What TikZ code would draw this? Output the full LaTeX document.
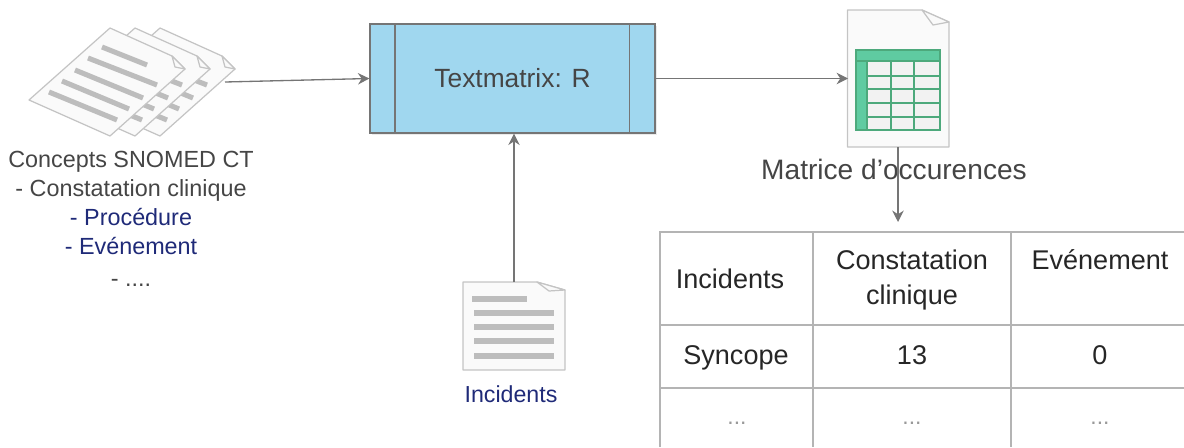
\documentclass[tikz,border=0pt]{standalone}
\usepackage{fontspec}
\usetikzlibrary{arrows.meta}
\setmainfont{Liberation Sans}
\definecolor{linegrey}{HTML}{757575}
\definecolor{pagegrey}{HTML}{C4C4C4}
\definecolor{pagefill}{HTML}{FAFAFA}
\definecolor{bargrey}{HTML}{BDBDBD}
\definecolor{boxblue}{HTML}{A0D7EF}
\definecolor{sheetgreen}{HTML}{5FCBA1}
\definecolor{sheetline}{HTML}{4DA97C}
\definecolor{cellgrey}{HTML}{F2F2F2}
\definecolor{tablegrey}{HTML}{B4B4B4}
\definecolor{labelgrey}{HTML}{454545}
\definecolor{labelnavy}{HTML}{1F2A78}
\tikzset{
	arrowline/.style={draw=linegrey,line width=0.75pt,-{Stealth[length=6.5pt,width=6.5pt]}},
	pageline/.style={draw=pagegrey,fill=pagefill,line width=0.7pt,line join=round},
	barline/.style={draw=bargrey,line width=2.9pt},
	celltext/.style={text=black!85,font=\fontsize{15.4}{19.5}\selectfont,align=center},
	dotstext/.style={text=black!40,font=\fontsize{13}{15}\selectfont},
}
\begin{document}
\begin{tikzpicture}[x=0.02cm,y=-0.02cm]
	\useasboundingbox (0,0) rectangle (1184,447);
	% tilted pages, back to front
	\foreach \pageshift in {50,25,0} {
		\begin{scope}[xshift=\pageshift*0.02cm]
			\draw[pageline] (110,28) to (172,56) to (185,69) to (110,136) to (29,100) to cycle;
			\draw[pageline] (172,56) to (175,67) to (185,69) to cycle;
			\draw[barline] (102,47) to (147,65);
			\draw[barline] (88,58) to (157,85);
			\draw[barline] (75,70) to (143,98);
			\draw[barline] (62,81) to (129,109);
			\draw[barline] (49,92) to (117,120);
		\end{scope}
	}
	\coordinate (concepts) at (225,82);
	\node[text=labelgrey,align=center,font=\fontsize{13.3}{16.4}\selectfont] (conceptstext) at (131,219) {Concepts SNOMED CT\\- Constatation clinique\\\textcolor{labelnavy}{- Procédure}\\\textcolor{labelnavy}{- Evénement}\\[2pt]- ....};
	\fill[black!8] (372,26) rectangle (657,135);
	\node[draw=linegrey,fill=boxblue,line width=0.7pt,minimum width=285*0.02cm,minimum height=109*0.02cm,inner sep=0pt,text=labelgrey,font=\fontsize{15}{18}\selectfont] (textmatrix) at (512.5,78.5) {Textmatrix: R};
	\draw[linegrey,line width=0.7pt] (395,24) to (395,133);
	\draw[linegrey,line width=0.7pt] (629.5,24) to (629.5,133);
	% sheet page
	\draw[pageline] (847.5,10) to (922,10) to (949,22) to (949,147) to (847.5,147) to cycle;
	\draw[pageline] (922,10) to (933,25) to (949,22) to cycle;
	\fill[cellgrey] (856,50) rectangle (940,130);
	\fill[sheetgreen] (856,50) rectangle (940,61);
	\fill[sheetgreen] (856,50) rectangle (867,130);
	\foreach \ycoord in {61,76,89,103,117} \draw[sheetline,line width=0.7pt] (867,\ycoord) to (940,\ycoord);
	\foreach \xcoord in {867,891,914} \draw[sheetline,line width=0.7pt] (\xcoord,61) to (\xcoord,130);
	\draw[sheetline,line width=0.7pt] (856,61) to (867,61);
	\draw[sheetline,line width=0.7pt] (856,50) rectangle (940,130);
	\coordinate (sheetleft) at (848,78.5);
	\coordinate (sheetbottom) at (898,147);
	\node[text=labelgrey,font=\fontsize{16}{19}\selectfont] (sheetlabel) at (894,169) {Matrice d'occurences};
	% incident page
	\draw[pageline] (463,282) to (537,282) to (565,290) to (565,370) to (463,370) to cycle;
	\draw[pageline] (537,282) to (549,291) to (565,290) to cycle;
	\draw[bargrey,line width=3.9pt] (472,299) to (527,299);
	\foreach \ycoord in {313,327,341,356} \draw[barline] (474,\ycoord) to (554,\ycoord);
	\coordinate (incidenttop) at (514,282);
	\node[text=labelnavy,font=\fontsize{13.2}{16}\selectfont] (incidentlabel) at (511,394) {Incidents};
	% table
	\draw[tablegrey,line width=0.7pt] (660,447) to (660,232) to (1184,232);
	\draw[tablegrey,line width=0.7pt] (660,325) to (1184,325);
	\draw[tablegrey,line width=0.7pt] (660,388) to (1184,388);
	\draw[tablegrey,line width=0.7pt] (813,232) to (813,447);
	\draw[tablegrey,line width=0.7pt] (1011,232) to (1011,447);
	\coordinate (tabletop) at (898,222);
	\node[celltext] (headincidents) at (730,279) {Incidents};
	\node[celltext] (headconstat) at (912,280) {Constatation\\clinique};
	\node[celltext] (headevent) at (1100,260) {Evénement};
	\node[celltext] (rowname) at (736,358) {Syncope};
	\node[celltext] (rowconstat) at (912,355) {13};
	\node[celltext] (rowevent) at (1100,355) {0};
	\node[dotstext] (dotsname) at (737,423) {...};
	\node[dotstext] (dotsconstat) at (912,423) {...};
	\node[dotstext] (dotsevent) at (1100,423) {...};
	\path[arrowline] (concepts) to (textmatrix.west);
	\path[arrowline] (textmatrix.east) to (sheetleft);
	\path[arrowline] (incidenttop) to (incidenttop|-textmatrix.south);
	\path[arrowline] (sheetbottom) to (tabletop);
\end{tikzpicture}
\end{document}
